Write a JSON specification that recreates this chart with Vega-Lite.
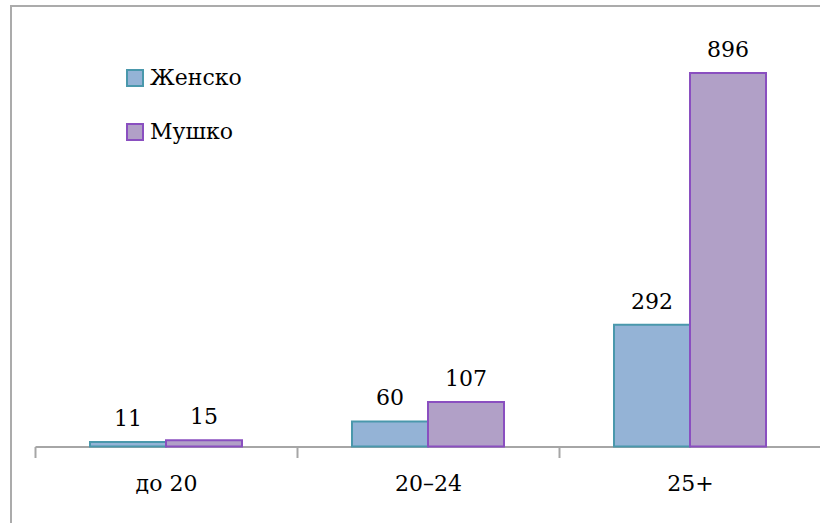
{
  "$schema": "https://vega.github.io/schema/vega-lite/v6.json",
  "autosize": "none",
  "width": 836,
  "height": 525,
  "padding": {"left": 11, "top": 6, "right": 0, "bottom": 0},
  "background": "white",
  "config": {
    "view": {"stroke": "#ABABAB", "strokeWidth": 2},
    "font": "DejaVu Serif"
  },
  "data": {
    "values": [
      {"age": "до 20", "sex": "Женско", "count": 11},
      {"age": "до 20", "sex": "Мушко", "count": 15},
      {"age": "20–24", "sex": "Женско", "count": 60},
      {"age": "20–24", "sex": "Мушко", "count": 107},
      {"age": "25+", "sex": "Женско", "count": 292},
      {"age": "25+", "sex": "Мушко", "count": 896}
    ]
  },
  "encoding": {
    "x": {
      "field": "age", "type": "nominal", "sort": ["до 20", "20–24", "25+"],
      "scale": {"range": [24, 810], "paddingInner": 0, "paddingOuter": 0},
      "axis": {
        "title": null, "labelAngle": 0, "tickBand": "extent", "offset": -84.5,
        "domainColor": "#A6A6A6", "domainWidth": 2, "tickColor": "#A6A6A6", "tickWidth": 2, "tickSize": 11,
        "labelFont": "DejaVu Serif", "labelFontSize": 22, "labelColor": "#000000", "labelPadding": 16
      }
    },
    "xOffset": {"field": "sex", "type": "nominal", "sort": ["Женско", "Мушко"], "scale": {"paddingInner": 0, "paddingOuter": 0.7237}},
    "y": {"field": "count", "type": "quantitative", "scale": {"domain": [-202.7, 1056.6], "nice": false, "zero": false}, "axis": null}
  },
  "layer": [
    {
      "mark": {"type": "bar", "strokeWidth": 2},
      "encoding": {
        "y2": {"datum": 0},
        "fill": {
          "field": "sex", "type": "nominal", "sort": ["Женско", "Мушко"],
          "scale": {"domain": ["Женско", "Мушко"], "range": ["#94B3D6", "#B1A0C7"]},
          "legend": {"title": null, "orient": "none", "legendX": 113, "legendY": 61, "symbolType": "square", "symbolSize": 256, "symbolStrokeWidth": 2, "labelFont": "DejaVu Serif", "labelFontSize": 22, "labelColor": "#000000", "labelOffset": 4, "rowPadding": 30, "padding": 0, "symbolOpacity": 1}
        },
        "stroke": {
          "field": "sex", "type": "nominal", "sort": ["Женско", "Мушко"],
          "scale": {"domain": ["Женско", "Мушко"], "range": ["#4A98AC", "#8A4FC0"]},
          "legend": {"title": null, "orient": "none", "legendX": 113, "legendY": 61, "symbolType": "square", "symbolSize": 256, "symbolStrokeWidth": 2, "labelFont": "DejaVu Serif", "labelFontSize": 22, "labelColor": "#000000", "labelOffset": 4, "rowPadding": 30, "padding": 0, "symbolOpacity": 1}
        }
      }
    },
    {
      "mark": {"type": "text", "font": "DejaVu Serif", "fontSize": 22, "color": "#000000", "baseline": "alphabetic", "dy": -16},
      "encoding": {"text": {"field": "count", "type": "quantitative"}}
    }
  ]
}
